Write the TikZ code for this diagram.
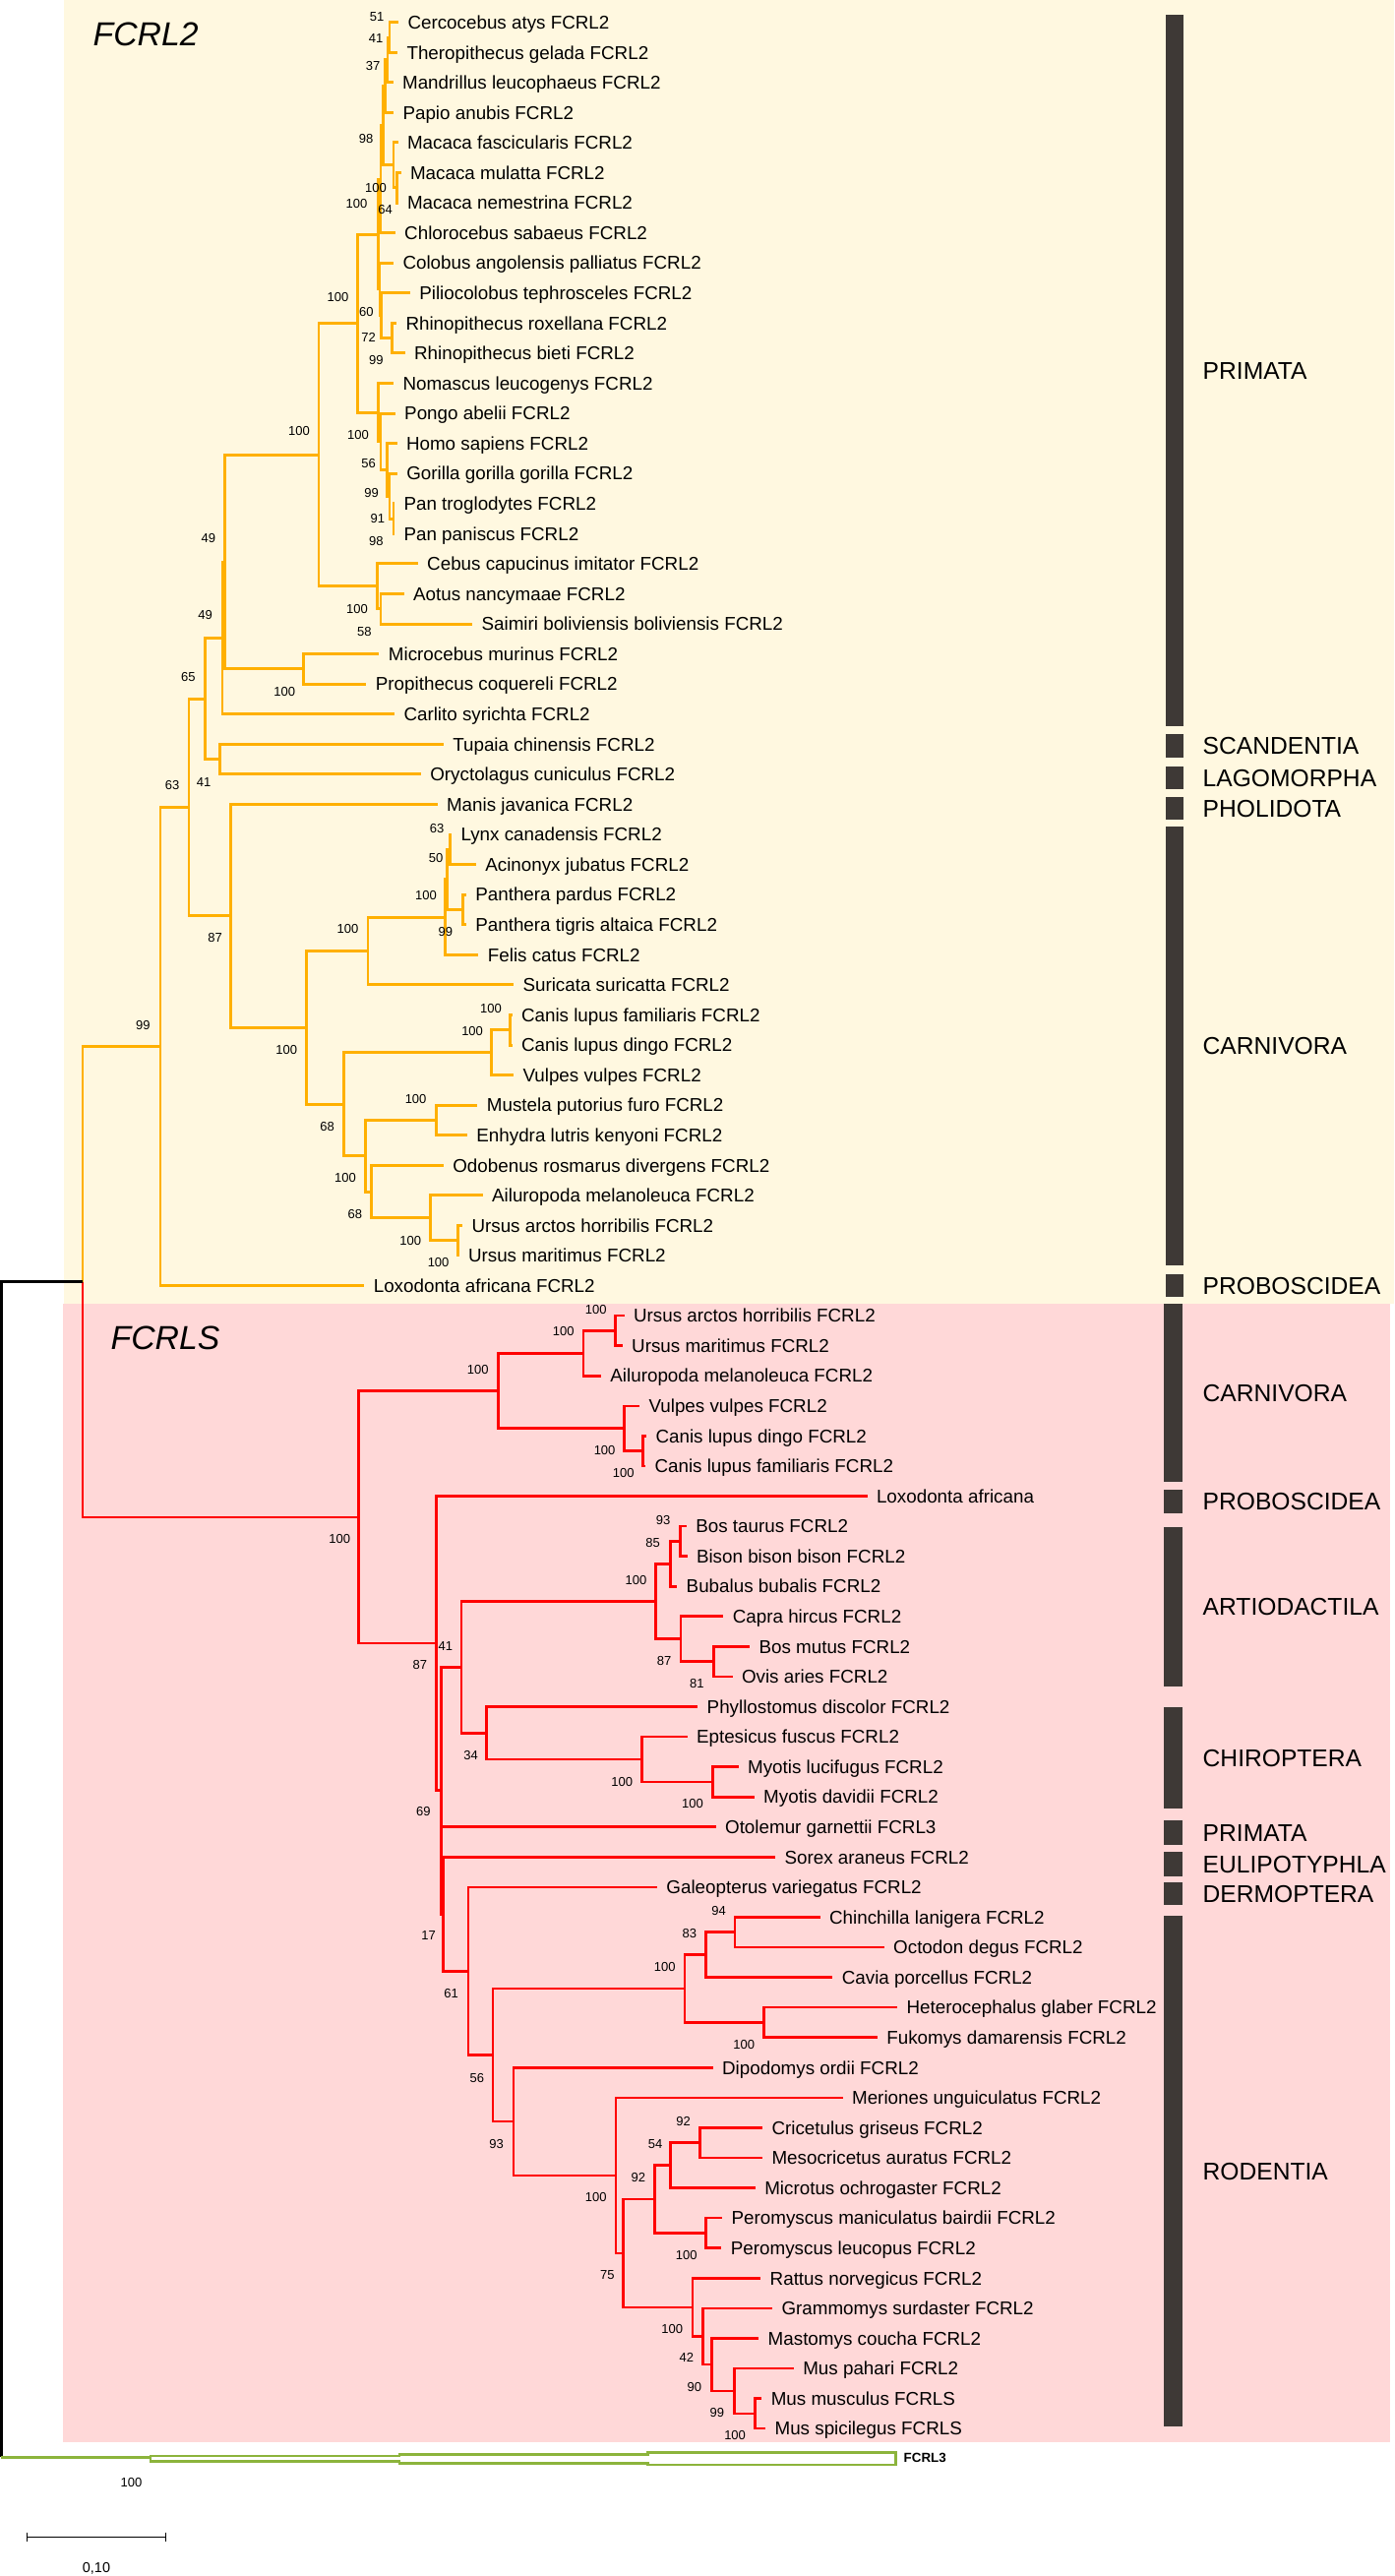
\documentclass[tikz,border=0pt]{standalone}
\usepackage{fontspec}
\setmainfont{Liberation Sans}
\definecolor{cream}{RGB}{255,248,224}
\definecolor{rosebg}{RGB}{255,216,216}
\definecolor{fcrltwo}{RGB}{255,176,0}
\definecolor{fcrls}{RGB}{255,0,0}
\definecolor{fcrlthree}{RGB}{140,180,60}
\definecolor{cladebar}{RGB}{62,57,54}
\tikzset{
  leaf/.style={anchor=west,inner xsep=0.095cm,inner ysep=0pt,outer sep=0pt,
    font=\fontsize{5.35}{6}\selectfont,text height=3.83pt,text depth=0pt},
  boot/.style={inner sep=0pt,font=\fontsize{3.7}{4}\selectfont},
  clade/.style={anchor=west,inner sep=0pt,font=\fontsize{7}{8}\selectfont,text height=5pt,text depth=0pt},
  genetitle/.style={anchor=base west,inner sep=0pt,font=\fontsize{9.6}{11}\selectfont\itshape},
  twobranch/.style={draw=fcrltwo,line width=0.85pt},
  sbranch/.style={draw=fcrls,line width=0.75pt},
  rootbranch/.style={draw=black,line width=0.9pt},
  ogbranch/.style={draw=fcrlthree,line width=0.75pt},
}
\begin{document}
\begin{tikzpicture}[x=0.01cm,y=-0.01cm]
\useasboundingbox (0,0) rectangle (1417,2618);
\fill[white] (0,0) rectangle (1417,2618);
\fill[cream] (65,0) rectangle (1417,1325);
\fill[rosebg] (64,1325) rectangle (1413,2482);

\node[genetitle] (title2) at (94,46) {FCRL2};
\node[genetitle] (titles) at (112,1371) {FCRLS};

\foreach \a/\b/\t [count=\i] in {15/738/PRIMATA, 746/770/SCANDENTIA, 779/802/LAGOMORPHA,
  810/833/PHOLIDOTA, 840/1286/CARNIVORA, 1295/1318/PROBOSCIDEA}{
  \fill[cladebar] (1185,\a) rectangle (1202.5,\b);
  \node[clade] (up\i) at (1222,{(\a+\b)/2}) {\t};
}
\foreach \a/\b/\t [count=\i] in {1325/1506/CARNIVORA, 1514/1538/PROBOSCIDEA, 1552/1714/ARTIODACTILA,
  1735/1838/CHIROPTERA, 1850/1875/PRIMATA, 1882/1907/EULIPOTYPHLA, 1913/1936/DERMOPTERA, 1947/2466/RODENTIA}{
  \fill[cladebar] (1183,\a) rectangle (1201.5,\b);
  \node[clade] (lo\i) at (1222,{(\a+\b)/2}) {\t};
}

\begin{scope}[y=-0.3055cm,yshift=0.0785cm]
\foreach \x/\t [count=\r] in {405/Cercocebus atys FCRL2, 404/Theropithecus gelada FCRL2,
  399.6/Mandrillus leucophaeus FCRL2, 400/Papio anubis FCRL2, 404.5/Macaca fascicularis FCRL2,
  407.5/Macaca mulatta FCRL2, 404.5/Macaca nemestrina FCRL2, 401.7/Chlorocebus sabaeus FCRL2,
  400/Colobus angolensis palliatus FCRL2, 416.8/Piliocolobus tephrosceles FCRL2,
  403/Rhinopithecus roxellana FCRL2, 411.6/Rhinopithecus bieti FCRL2, 400/Nomascus leucogenys FCRL2,
  401.7/Pongo abelii FCRL2, 403.5/Homo sapiens FCRL2, 403.8/Gorilla gorilla gorilla FCRL2,
  401/Pan troglodytes FCRL2, 401/Pan paniscus FCRL2, 424.7/Cebus capucinus imitator FCRL2,
  410.6/Aotus nancymaae FCRL2, 480.1/Saimiri boliviensis boliviensis FCRL2,
  385.4/Microcebus murinus FCRL2, 372.4/Propithecus coquereli FCRL2, 401/Carlito syrichta FCRL2,
  450.8/Tupaia chinensis FCRL2, 427.8/Oryctolagus cuniculus FCRL2, 444.5/Manis javanica FCRL2,
  459/Lynx canadensis FCRL2, 483.8/Acinonyx jubatus FCRL2, 473.8/Panthera pardus FCRL2,
  473.8/Panthera tigris altaica FCRL2, 486.4/Felis catus FCRL2, 522/Suricata suricatta FCRL2,
  520.5/Canis lupus familiaris FCRL2, 520.5/Canis lupus dingo FCRL2, 522/Vulpes vulpes FCRL2,
  485.4/Mustela putorius furo FCRL2, 474.9/Enhydra lutris kenyoni FCRL2,
  450.8/Odobenus rosmarus divergens FCRL2, 490.6/Ailuropoda melanoleuca FCRL2,
  470/Ursus arctos horribilis FCRL2, 466.5/Ursus maritimus FCRL2, 370.3/Loxodonta africana FCRL2}
  \node[leaf] (l\r) at (\x,\r) {\t};
\foreach \x/\t [count=\r from 44] in {634.6/Ursus arctos horribilis FCRL2, 632.7/Ursus maritimus FCRL2,
  610.9/Ailuropoda melanoleuca FCRL2, 650/Vulpes vulpes FCRL2, 657/Canis lupus dingo FCRL2,
  656/Canis lupus familiaris FCRL2, 881.5/Loxodonta africana, 697.8/Bos taurus FCRL2,
  698.5/Bison bison bison FCRL2, 688.2/Bubalus bubalis FCRL2, 735.3/Capra hircus FCRL2,
  762/Bos mutus FCRL2, 744.5/Ovis aries FCRL2, 709.2/Phyllostomus discolor FCRL2,
  698.5/Eptesicus fuscus FCRL2, 750.6/Myotis lucifugus FCRL2, 766.7/Myotis davidii FCRL2,
  727.6/Otolemur garnettii FCRL3, 788.1/Sorex araneus FCRL2, 667.9/Galeopterus variegatus FCRL2,
  833.6/Chinchilla lanigera FCRL2, 898.7/Octodon degus FCRL2, 846.3/Cavia porcellus FCRL2,
  912/Heterocephalus glaber FCRL2, 891.8/Fukomys damarensis FCRL2, 724.6/Dipodomys ordii FCRL2,
  856.6/Meriones unguiculatus FCRL2, 775/Cricetulus griseus FCRL2, 775/Mesocricetus auratus FCRL2,
  767.8/Microtus ochrogaster FCRL2, 734.1/Peromyscus maniculatus bairdii FCRL2,
  733.4/Peromyscus leucopus FCRL2, 773.2/Rattus norvegicus FCRL2, 785/Grammomys surdaster FCRL2,
  771.2/Mastomys coucha FCRL2, 806.8/Mus pahari FCRL2, 774.3/Mus musculus FCRLS,
  778.1/Mus spicilegus FCRLS}
  \node[leaf] (l\r) at (\x,\r) {\t};

\foreach \n/\x/\r in {n51/396/1.5, n41/394/2.25, n37/391.5/3.125, nmm/403.3/6.5, nmac/400/5.75,
  n98/389.6/4.4375, ce/387/6.21875, nrh/398.5/11.5, npr/387.5/10.75, co/386/9.875, owm/384.4/8.047,
  npan/400/17.5, ngp/396/16.75, hgp/393.3/15.875, ho/387/14.9375, ap/384.4/13.96875, ct/363.5/11.008,
  as/387/20.5, nw/383.4/19.75, an/324/15.379, st/308.6/22.5, nfa/228.5/18.94, pr/226/21.47,
  gl/223.8/25.5, eu/208.7/23.485, lx/457/28.5, pa/470.7/30.5, lp/454/29.5, fd/452.4/30.75,
  fe/374/31.875, cs/518.8/34.5, cn/499.5/35.25, mu/443.5/37.5, us/465.5/41.5, ur/437.2/40.75,
  ou/377.6/39.875, ar/371.3/38.6875, cf/349.4/36.97, ca/311.7/34.42, la/234.8/30.71, bo/192/27.1,
  fc2/163/35.05}
  \coordinate (\n) at (\x,\r);
\foreach \n/\x/\r in {urs2/625.8/44.5, ur2/593/45.25, can2/653.8/48.5, cn2/634.6/47.75, ca2/506.3/46.5,
  bt/691.3/51.5, bv/681.3/52.25, bm/725.3/55.5, cp/692/54.75, ad/666.6/53.5, my/724.6/59.5,
  ve/652.6/58.75, ch/494.2/57.875, x41/469.1/55.6875, co2/747.1/64.5, cv/717.7/65.25, ba/776.6/67.5,
  hy/695.9/66.375, nb92/711.5/71.5, n54/681.7/72.25, pe/717.7/74.5, cr/665.2/73.375, mp/767.8/80.5,
  ms/746.4/79.75, n42/723.4/78.875, nc100/714.2/77.9375, mu2/703.9/76.97, n75/633.5/75.17,
  mr/626/72.585, n93/522/70.79, ro/501/68.58, gn/475.9/65.79, n17/450.8/63.895, n69/448.2/59.79,
  n87/443.5/54.895, fs/364.5/50.70}
  \coordinate (\n) at (\x,\r);

\foreach \p/\c in {n51/l1, n51/l2, n41/n51, n41/l3, n37/n41, n37/l4, nmm/l6, nmm/l7, nmac/l5, nmac/nmm,
  n98/n37, n98/nmac, ce/n98, ce/l8, nrh/l11, nrh/l12, npr/l10, npr/nrh, co/l9, co/npr, owm/ce, owm/co,
  npan/l17, npan/l18, ngp/l16, ngp/npan, hgp/l15, hgp/ngp, ho/l14, ho/hgp, ap/l13, ap/ho, ct/owm, ct/ap,
  as/l20, as/l21, nw/l19, nw/as, an/ct, an/nw, st/l22, st/l23, nfa/an, nfa/st, pr/nfa, pr/l24,
  gl/l25, gl/l26, eu/pr, eu/gl, lx/l28, lx/l29, pa/l30, pa/l31, lp/lx, lp/pa, fd/lp, fd/l32,
  fe/fd, fe/l33, cs/l34, cs/l35, cn/cs, cn/l36, mu/l37, mu/l38, us/l41, us/l42, ur/l40, ur/us,
  ou/l39, ou/ur, ar/mu, ar/ou, cf/cn, cf/ar, ca/fe, ca/cf, la/l27, la/ca, bo/eu, bo/la, fc2/bo, fc2/l43}
  \draw[twobranch] (\p) |- (\c);
\foreach \p/\c in {urs2/l44, urs2/l45, ur2/urs2, ur2/l46, can2/l48, can2/l49, cn2/l47, cn2/can2,
  ca2/ur2, ca2/cn2, bt/l51, bt/l52, bv/bt, bv/l53, bm/l55, bm/l56, cp/l54, cp/bm, ad/bv, ad/cp,
  my/l59, my/l60, ve/l58, ve/my, ch/l57, ch/ve, x41/ad, x41/ch, co2/l64, co2/l65, cv/co2, cv/l66,
  ba/l67, ba/l68, hy/cv, hy/ba, nb92/l71, nb92/l72, n54/nb92, n54/l73, pe/l74, pe/l75, cr/n54, cr/pe,
  mp/l80, mp/l81, ms/l79, ms/mp, n42/l78, n42/ms, nc100/l77, nc100/n42, mu2/l76, mu2/nc100,
  n75/cr, n75/mu2, mr/l70, mr/n75, n93/l69, n93/mr, ro/hy, ro/n93, gn/l63, gn/ro, n17/l62, n17/gn,
  n69/x41, n69/l61, n69/n17, n87/l50, n87/n69, fs/ca2, fs/n87}
  \draw[sbranch] (\p) |- (\c);

\coordinate (ing) at (84,42.875);
\coordinate (root) at (1.5,62.44);
\draw[twobranch] (ing) |- (fc2);
\draw[sbranch] (ing) |- (fs);
\draw[rootbranch] (root) |- (ing);
\end{scope}

\coordinate (og) at (153,2497.2);
\draw[rootbranch] (root) -- (root |- og);
\draw[ogbranch] (root |- og) -- (og);
\draw[ogbranch] (og) ++(0,-1.2) -- ++(253,0) -- ++(0,-1.7) -- ++(252.3,0) -- ++(0,-2) -- ++(252.3,0)
  -- ++(0,12.7) -- ++(-252.3,0) -- ++(0,-1.7) -- ++(-252.3,0) -- ++(0,-1.6) -- ++(-253,0) -- cycle;
\node[anchor=west,inner sep=0pt,font=\fontsize{3.8}{4}\selectfont\bfseries] (fcrl3) at (918,2497.5) {FCRL3};

\foreach \x/\y/\v [count=\i] in {383/16.7/51, 382/39.3/41, 379/66.7/37, 372/140.7/98, 382/191/100,
  362.4/206.7/100, 391.7/213.3/64, 343.6/301.7/100, 372.4/316.7/60, 374.5/343.3/72, 382.3/366/99,
  303.9/437.7/100, 364/441.7/100, 374.5/471/56, 377.6/500.7/99, 383.9/527.3/91, 382.3/550/98,
  211.8/547.3/49, 363/618.7/100, 370.3/641.7/58, 208.7/625/49, 191.4/687.7/65, 289.2/702.7/100,
  175.2/797.7/63, 207.1/795/41, 444/841.7/63, 443/872/50, 433/910/100, 353.5/944.3/100,
  452.9/946.7/99, 218.6/953.3/87, 145.4/1041.7/99, 498.9/1025/100, 480.1/1048.3/100,
  291.3/1067.3/100, 422.6/1116.7/100, 332.6/1145/68, 350.9/1197/100, 360.9/1234/68,
  417.3/1260.7/100, 445.6/1283.3/100}
  \node[boot] (bu\i) at (\x,\y) {\v};
\foreach \x/\y/\v [count=\i] in {605.8/1331/100, 572.7/1353.5/100, 485.8/1391.7/100, 614.6/1474.5/100,
  633.8/1497.2/100, 345.2/1564/100, 674/1544.8/93, 663.7/1567.6/85, 646.4/1605.8/100, 675.1/1688.4/87,
  708.3/1711/81, 452.9/1672.7/41, 426.8/1692.3/87, 478.5/1784/34, 632.3/1810.7/100, 704/1833.3/100,
  430.4/1841/69, 435.6/1966.7/17, 730.6/1941.5/94, 700.8/1965/83, 675.8/1999.3/100, 458.7/2026/61,
  756.3/2078.2/100, 484.8/2111.7/56, 504.7/2179/93, 694.7/2155.6/92, 666/2178.6/54, 648.8/2213/92,
  605.8/2233.2/100, 697.8/2291.5/100, 617.4/2312.1/75, 683.2/2366.9/100, 697.8/2396.3/42,
  705.8/2426.2/90, 728.8/2452.2/99, 747.1/2474.8/100, 133.5/2522.7/100}
  \node[boot] (bl\i) at (\x,\y) {\v};

\coordinate (scl) at (27.6,2578.3);
\coordinate (scr) at (168.4,2578.3);
\draw[line width=0.45pt] (scl) -- (scr) (scl) ++(0,-4.6) -- ++(0,9.2) (scr) ++(0,-4.6) -- ++(0,9.2);
\node[inner sep=0pt,font=\fontsize{4.1}{5}\selectfont] (scaletext) at (98,2610.7) {0,10};
\end{tikzpicture}
\end{document}
